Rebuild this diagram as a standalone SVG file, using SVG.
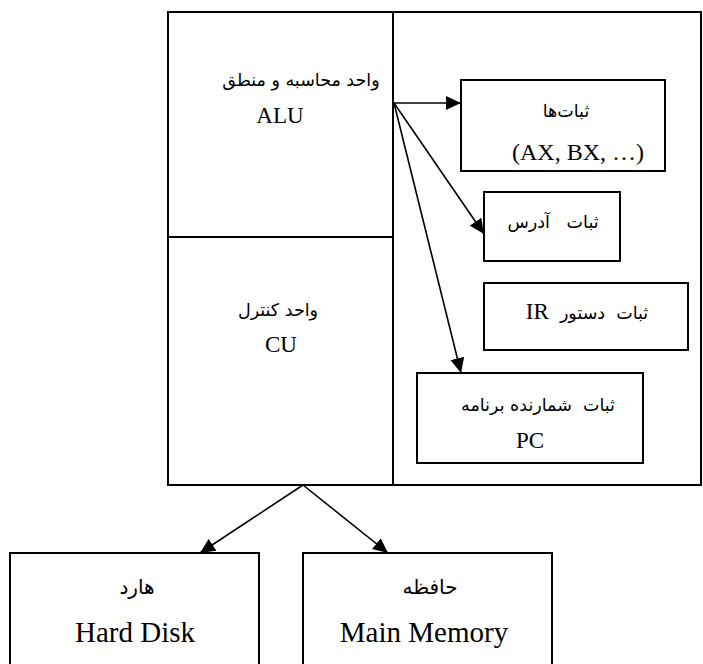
<svg xmlns="http://www.w3.org/2000/svg" width="703" height="664" viewBox="0 0 703 664">
  <defs>
    <marker id="head" markerUnits="userSpaceOnUse" markerWidth="16" markerHeight="14" refX="15" refY="7" orient="auto">
      <path d="M0,0 L15,7 L0,14 Z" fill="#000"/>
    </marker>
    <style>
      .box { fill: #fff; stroke: #000; stroke-width: 2; }
      .frame { fill: none; stroke: #000; stroke-width: 2; }
      .link { fill: none; stroke: #000; stroke-width: 1.6; marker-end: url(#head); }
      .lat { font-family: "Liberation Serif", "Times New Roman", serif; font-size: 23px; fill: #000; text-anchor: middle; }
      .big { font-size: 29px; }
      .fa { font-family: "DejaVu Sans", "Noto Sans", sans-serif; font-size: 17.5px; fill: #000; text-anchor: middle; white-space: pre; }
      .fa-big { font-size: 20px; }
    </style>
  </defs>
  <rect width="703" height="664" fill="#fff"/>

  <!-- CPU frame: ALU and CU compartments on the left, register area on the right -->
  <g id="cpu">
    <rect class="frame" x="168" y="12" width="533" height="473"/>
    <line class="frame" x1="393" y1="12" x2="393" y2="485"/>
    <line class="frame" x1="168" y1="237" x2="393" y2="237"/>
  </g>

  <g id="alu">
    <text class="fa" x="301" y="86" direction="rtl">واحد محاسبه و منطق</text>
    <text class="lat" x="280" y="123">ALU</text>
  </g>

  <g id="cu">
    <text class="fa" x="278" y="316" direction="rtl">واحد کنترل</text>
    <text class="lat" x="281" y="352">CU</text>
  </g>

  <g id="registers">
    <rect class="box" x="461" y="80" width="204" height="91"/>
    <text class="fa" x="566" y="117" direction="rtl">ثبات‌ها</text>
    <text class="lat" x="578" y="160" style="font-size:24px">(AX, BX, …)</text>
  </g>

  <g id="address-register">
    <rect class="box" x="484" y="192" width="136" height="69"/>
    <text class="fa" x="553" y="228" direction="rtl">ثبات   آدرس</text>
  </g>

  <g id="instruction-register">
    <rect class="box" x="484" y="283" width="204" height="67"/>
    <text class="fa" x="587" y="319" direction="rtl">ثبات  دستور  <tspan class="lat" style="font-size:23px">IR</tspan></text>
  </g>

  <g id="program-counter">
    <rect class="box" x="417" y="373" width="226" height="90"/>
    <text class="fa" x="538" y="411" direction="rtl">ثبات  شمارنده برنامه</text>
    <text class="lat" x="530" y="448">PC</text>
  </g>

  <g id="hard-disk">
    <rect class="box" x="10" y="553" width="249" height="130"/>
    <text class="fa fa-big" x="137" y="594" direction="rtl">هارد</text>
    <text class="lat big" x="135" y="642">Hard Disk</text>
  </g>

  <g id="main-memory">
    <rect class="box" x="303" y="553" width="249" height="130"/>
    <text class="fa fa-big" x="430" y="594" direction="rtl">حافظه</text>
    <text class="lat big" x="424" y="642">Main Memory</text>
  </g>

  <g id="connectors">
    <line class="link" x1="394" y1="103" x2="461" y2="103"/>
    <line class="link" x1="394" y1="103" x2="484" y2="234"/>
    <line class="link" x1="394" y1="103" x2="461" y2="373"/>
    <line class="link" x1="303" y1="485" x2="200" y2="553"/>
    <line class="link" x1="303" y1="485" x2="388" y2="553"/>
  </g>
</svg>
